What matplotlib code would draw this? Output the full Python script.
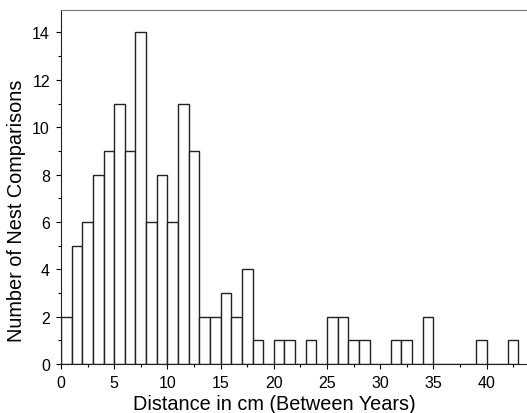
import matplotlib
matplotlib.use("Agg")
import matplotlib.pyplot as plt
from matplotlib.ticker import MultipleLocator

plt.rcParams['font.family'] = ['Liberation Sans', 'DejaVu Sans']

bin_starts = list(range(0, 43))
counts = [2, 5, 6, 8, 9, 11, 9, 14, 6, 8, 6, 11, 9, 2, 2, 3, 2, 4, 1, 0,
          1, 1, 0, 1, 0, 2, 2, 1, 1, 0, 0, 1, 1, 0, 2, 0, 0, 0, 0, 1,
          0, 0, 1]
x_label = "Distance in cm (Between Years)"
y_label = "Number of Nest Comparisons"

fig = plt.figure(figsize=(5.27, 4.14), dpi=100)
ax = fig.add_axes([61/527, 1-365/414, 1-61/527, (365-11)/414])

ax.bar(bin_starts, counts, width=1, align='edge', facecolor='white',
       edgecolor='#222222', linewidth=1.0)

ax.set_xlim(0, 43.8)
ax.set_ylim(0, 14.95)
ax.xaxis.set_major_locator(MultipleLocator(5))
ax.xaxis.set_minor_locator(MultipleLocator(2.5))
ax.yaxis.set_major_locator(MultipleLocator(2))
ax.yaxis.set_minor_locator(MultipleLocator(1))
ax.tick_params(which='major', direction='out', length=3.5, width=0.8, labelsize=11.5)
ax.tick_params(axis='x', which='major', pad=4.5)
ax.tick_params(axis='y', which='major', pad=4.5)
ax.tick_params(which='minor', direction='out', length=2, width=0.8)

ax.spines['right'].set_visible(False)
ax.spines['top'].set_color('#777777')
ax.spines['left'].set_color('#222222')
ax.spines['bottom'].set_color('#222222')

ax.set_xlabel(x_label, fontsize=14.3, labelpad=3)
ax.set_ylabel(y_label, fontsize=14.3, labelpad=4)
ax.xaxis.set_label_coords(0.458, -0.085, transform=ax.transAxes)
ax.yaxis.label.set_y(0.436)
ax.xaxis.label.set_va('top')

fig.savefig("out.png", dpi=100)
